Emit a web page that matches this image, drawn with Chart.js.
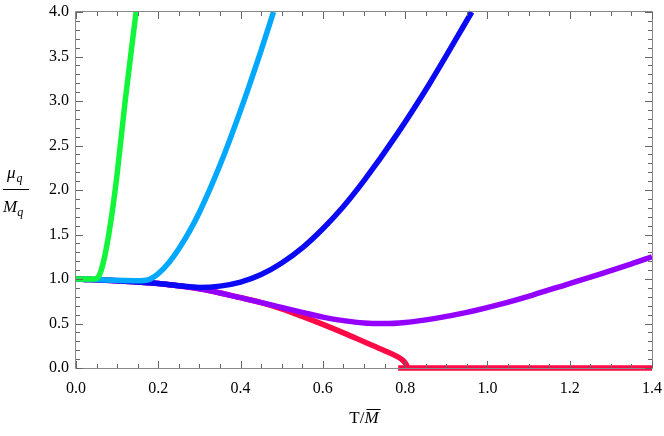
<!DOCTYPE html>
<html>
<head>
<meta charset="utf-8">
<script src="https://cdn.jsdelivr.net/npm/chart.js@4.4.1/dist/chart.umd.min.js"></script>
<style>
  html, body { margin: 0; padding: 0; background: #fff; }
  #wrap { width: 664px; height: 436px; }
</style>
</head>
<body>
<div id="wrap"><canvas id="muChart"></canvas></div>
<script>
// 曲线数据 (T/M, mu_q/M_q)
const greenT = [0, 0.03, 0.045, 0.05, 0.055, 0.06, 0.065, 0.07, 0.075, 0.08, 0.09, 0.1, 0.119, 0.146];
const greenMu = [1.0, 1.0, 1.0, 1.005, 1.03, 1.08, 1.16, 1.26, 1.38, 1.51, 1.82, 2.18, 2.98, 4.0];

const cyanT = [0, 0.05, 0.1, 0.15, 0.175, 0.2, 0.225, 0.25, 0.275, 0.3, 0.35, 0.4, 0.45, 0.48];
const cyanMu = [1.0, 0.995, 0.985, 0.98, 0.99, 1.06, 1.18, 1.34, 1.53, 1.75, 2.28, 2.895, 3.57, 4.0];

const blueT = [0, 0.1, 0.2, 0.25, 0.3, 0.35, 0.4, 0.45, 0.5, 0.55, 0.6, 0.65, 0.7, 0.78, 0.86, 0.962];
const blueMu = [1.0, 0.98, 0.95, 0.925, 0.905, 0.92, 0.965, 1.05, 1.18, 1.35, 1.565, 1.815, 2.105, 2.625, 3.2, 4.0];

const purpleT = [0, 0.1, 0.2, 0.3, 0.4, 0.5, 0.55, 0.6, 0.65, 0.7, 0.75, 0.8, 0.87, 0.95, 1.03, 1.11, 1.19, 1.27, 1.35, 1.4];
const purpleMu = [1.0, 0.98, 0.95, 0.89, 0.79, 0.68, 0.625, 0.572, 0.532, 0.505, 0.499, 0.512, 0.555, 0.625, 0.715, 0.82, 0.935, 1.05, 1.17, 1.25];

const redT = [0, 0.1, 0.2, 0.3, 0.4, 0.45, 0.5, 0.55, 0.6, 0.65, 0.7, 0.75, 0.78, 0.795, 0.803, 0.806];
const redMu = [1.0, 0.98, 0.95, 0.89, 0.79, 0.735, 0.665, 0.58, 0.49, 0.395, 0.295, 0.195, 0.13, 0.085, 0.035, 0.0];

const redFlatT = [0.783, 1.4];
const redFlatMu = [0, 0];

// 坐标轴刻度
const xTicks = [0, 0.2, 0.4, 0.6, 0.8, 1.0, 1.2, 1.4];
const yTicks = [0, 0.5, 1.0, 1.5, 2.0, 2.5, 3.0, 3.5, 4.0];

const serif = "'Liberation Serif', 'DejaVu Serif', serif";

function pts(xs, ys) {
    return xs.map((x, i) => ({ x: x, y: ys[i] }));
}

function line(xs, ys, color) {
    return {
        data: pts(xs, ys),
        borderColor: color,
        borderWidth: 5.5,
        pointRadius: 0,
        fill: false,
        cubicInterpolationMode: 'monotone',
        borderCapStyle: 'butt',
        borderJoinStyle: 'round',
        clip: false
    };
}

// 边框和内向刻度
const framePlugin = {
    id: 'frame',
    afterDatasetsDraw(chart) {
        const { ctx, chartArea: a, scales: { x, y } } = chart;
        ctx.save();
        ctx.strokeStyle = '#8a8a8a';
        ctx.lineWidth = 1;
        ctx.beginPath();
        ctx.rect(Math.round(a.left) - 0.5, Math.round(a.top) - 0.5,
                 Math.round(a.right - a.left) + 1, Math.round(a.bottom - a.top) + 1);
        ctx.stroke();

        ctx.strokeStyle = '#666';
        ctx.beginPath();
        for (let i = 0; i <= 28; i++) {
            const v = i * 0.05;
            const px = Math.round(x.getPixelForValue(v)) + 0.5;
            const len = i % 4 === 0 ? 7 : 4;
            ctx.moveTo(px, a.bottom); ctx.lineTo(px, a.bottom - len);
            ctx.moveTo(px, a.top); ctx.lineTo(px, a.top + len);
        }
        for (let i = 0; i <= 40; i++) {
            const v = i * 0.1;
            const py = Math.round(y.getPixelForValue(v)) + 0.5;
            const len = i % 5 === 0 ? 7 : 4;
            ctx.moveTo(a.left, py); ctx.lineTo(a.left + len, py);
            ctx.moveTo(a.right, py); ctx.lineTo(a.right - len, py);
        }
        ctx.stroke();
        ctx.restore();
    },
    afterDraw(chart) {
        const ctx = chart.ctx;
        ctx.save();
        ctx.fillStyle = '#000';
        ctx.textBaseline = 'alphabetic';
        ctx.textAlign = 'left';

        // y 轴标题: mu_q / M_q
        ctx.font = 'italic 17px ' + serif;
        ctx.fillText('\u03bc', 7, 178);
        let w = ctx.measureText('\u03bc').width;
        ctx.font = 'italic 12px ' + serif;
        ctx.fillText('q', 7 + w + 1, 182);
        ctx.font = 'italic 17px ' + serif;
        ctx.fillText('M', 3, 212);
        w = ctx.measureText('M').width;
        ctx.font = 'italic 12px ' + serif;
        ctx.fillText('q', 3 + w, 216);
        ctx.fillRect(3, 189, 26, 1);

        // x 轴标题: T / M-bar
        ctx.font = '17px ' + serif;
        const t1 = 'T/';
        const w1 = ctx.measureText(t1).width;
        ctx.font = 'italic 17px ' + serif;
        const w2 = ctx.measureText('M').width;
        const x0 = 364 - (w1 + w2) / 2;
        ctx.font = '17px ' + serif;
        ctx.fillText(t1, x0, 423);
        ctx.font = 'italic 17px ' + serif;
        ctx.fillText('M', x0 + w1, 423);
        ctx.fillRect(x0 + w1 + 2, 409, w2, 1);
        ctx.restore();
    }
};

const ctx = document.getElementById('muChart').getContext('2d');
new Chart(ctx, {
    type: 'line',
    data: {
        datasets: [
            line(greenT, greenMu, '#11f53a'),
            line(cyanT, cyanMu, '#00a8ff'),
            line(blueT, blueMu, '#0a0af5'),
            line(purpleT, purpleMu, '#9400ff'),
            line(redT, redMu, '#ff0a46'),
            line(redFlatT, redFlatMu, '#ff0a46')
        ]
    },
    options: {
        responsive: true,
        maintainAspectRatio: false,
        animation: false,
        layout: {
            padding: { left: 0, right: 12, top: 12, bottom: 38 }
        },
        plugins: {
            legend: { display: false },
            tooltip: { enabled: false }
        },
        scales: {
            x: {
                type: 'linear',
                min: 0,
                max: 1.4,
                afterFit: (s) => { s.height = 30; s.paddingLeft = 0; s.paddingRight = 0; },
                afterBuildTicks: (s) => { s.ticks = xTicks.map(v => ({ value: v })); },
                ticks: {
                    padding: 11,
                    maxRotation: 0,
                    autoSkip: false,
                    color: '#000',
                    font: { family: serif, size: 16 },
                    callback: (v) => v.toFixed(1)
                },
                grid: { display: false, drawTicks: false },
                border: { display: false }
            },
            y: {
                min: 0,
                max: 4,
                afterFit: (s) => { s.width = 76; s.paddingTop = 0; s.paddingBottom = 0; },
                afterBuildTicks: (s) => { s.ticks = yTicks.map(v => ({ value: v })); },
                ticks: {
                    padding: 7,
                    color: '#000',
                    font: { family: serif, size: 16 },
                    callback: (v) => v.toFixed(1)
                },
                grid: { display: false, drawTicks: false },
                border: { display: false }
            }
        }
    },
    plugins: [framePlugin]
});
</script>
</body>
</html>
